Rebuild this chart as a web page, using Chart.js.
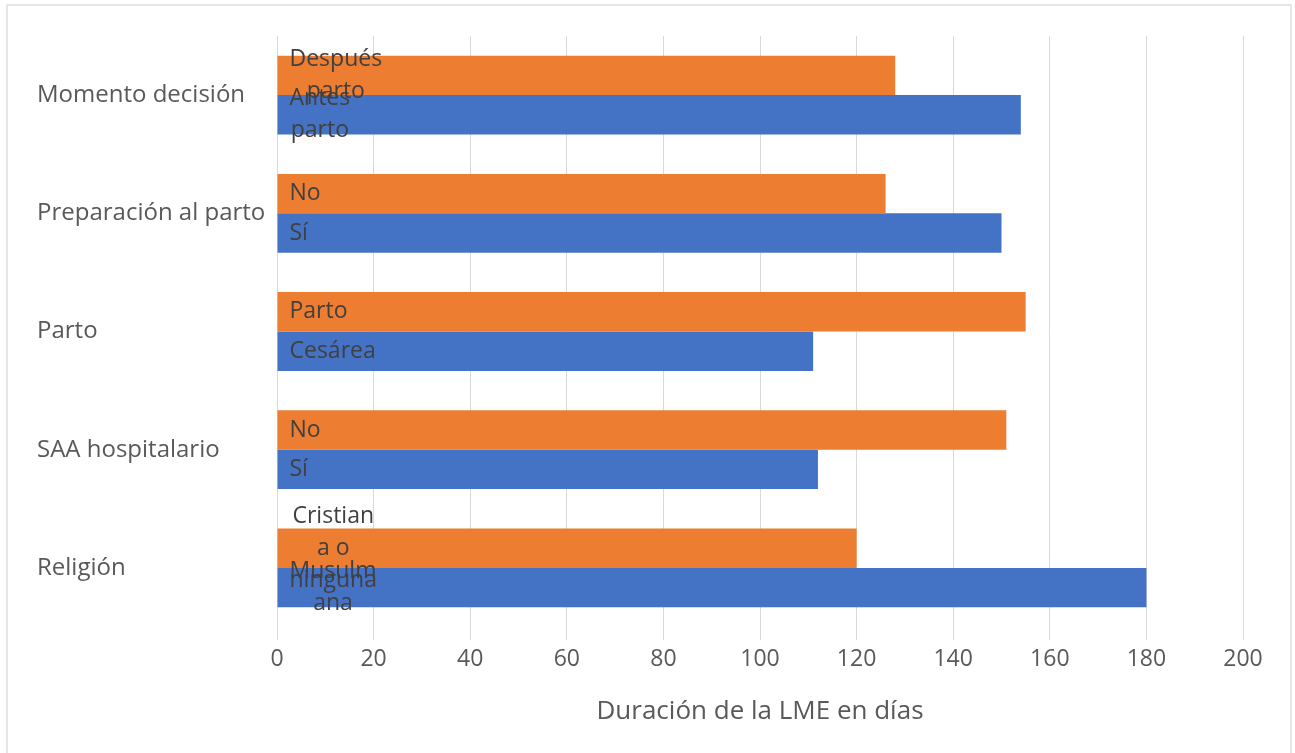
<!DOCTYPE html>
<html>
<head>
<meta charset="utf-8">
<script src="https://cdn.jsdelivr.net/npm/chart.js@4.4.1/dist/chart.umd.min.js"></script>
<style>
  html, body { margin: 0; padding: 0; background: #fff; overflow: hidden; }
  #wrap { position: absolute; left: 0; top: 0; width: 1295px; height: 753px; }
  #frame { position: absolute; left: 6px; top: 4px; width: 1286px; height: 760px; border: 2px solid #e6e6e6; box-sizing: border-box; pointer-events: none; }
</style>
</head>
<body>
<div id="wrap"><canvas id="c" width="1295" height="753"></canvas></div>
<div id="frame"></div>
<script>
const categories = ["Momento decisión", "Preparación al parto", "Parto", "SAA hospitalario", "Religión"];
const orangeValues = [128, 126, 155, 151, 120];
const blueValues = [154, 150, 111, 112, 180];
const orangeLabels = [["Después", "parto"], ["No"], ["Parto"], ["No"], ["Cristian", "a o", "ninguna"]];
const blueLabels = [["Antes", "parto"], ["Sí"], ["Cesárea"], ["Sí"], ["Musulm", "ana"]];
const xTicks = [0, 20, 40, 60, 80, 100, 120, 140, 160, 180, 200];
const axisTitle = "Duración de la LME en días";

const FONT = "'Open Sans', 'Noto Sans', sans-serif";

const barLabelPlugin = {
  id: 'barLabels',
  afterDatasetsDraw(chart) {
    const ctx = chart.ctx;
    ctx.save();
    ctx.font = "23px " + FONT;
    ctx.fillStyle = "#404040";
    ctx.textBaseline = "middle";
    ctx.textAlign = "center";
    const lh = 32;
    chart.data.datasets.forEach((ds, di) => {
      const meta = chart.getDatasetMeta(di);
      meta.data.forEach((bar, i) => {
        const lines = ds.barLabels[i];
        let w = 0;
        lines.forEach(l => { w = Math.max(w, ctx.measureText(l).width); });
        const left = bar.base + 12;
        const cx = left + w / 2;
        const y0 = bar.y - (lines.length - 1) * lh / 2;
        lines.forEach((l, k) => ctx.fillText(l, cx, y0 + k * lh));
      });
    });
    ctx.restore();
  }
};

new Chart(document.getElementById('c'), {
  type: 'bar',
  data: {
    labels: categories,
    datasets: [
      { label: "Serie 2", data: orangeValues, backgroundColor: "#ED7D31", barLabels: orangeLabels, categoryPercentage: 0.667, barPercentage: 1.0 },
      { label: "Serie 1", data: blueValues, backgroundColor: "#4472C4", barLabels: blueLabels, categoryPercentage: 0.667, barPercentage: 1.0 }
    ]
  },
  options: {
    indexAxis: 'y',
    responsive: false,
    animation: false,
    devicePixelRatio: 1,
    layout: { padding: { left: 37, top: 36, right: 52, bottom: 0 } },
    plugins: { legend: { display: false }, tooltip: { enabled: false } },
    scales: {
      x: {
        min: 0, max: 200,
        afterBuildTicks(scale) { scale.ticks = xTicks.map(v => ({ value: v })); },
        afterFit(scale) { scale.height = 126; },
        grid: { color: "#d9d9d9", lineWidth: 1, tickLength: 13, drawTicks: true, tickColor: "#d9d9d9" },
        border: { display: false },
        ticks: { color: "#595959", font: { family: FONT, size: 23 }, padding: 6 },
        title: { display: true, text: axisTitle, color: "#595959", font: { family: FONT, size: 26 }, padding: { top: 0, bottom: 26 } }
      },
      y: {
        afterFit(scale) { scale.width = 240; },
        grid: { display: false },
        border: { display: false },
        ticks: { color: "#595959", font: { family: FONT, size: 24 }, crossAlign: 'far', padding: 0 }
      }
    }
  },
  plugins: [barLabelPlugin]
});
</script>
</body>
</html>
